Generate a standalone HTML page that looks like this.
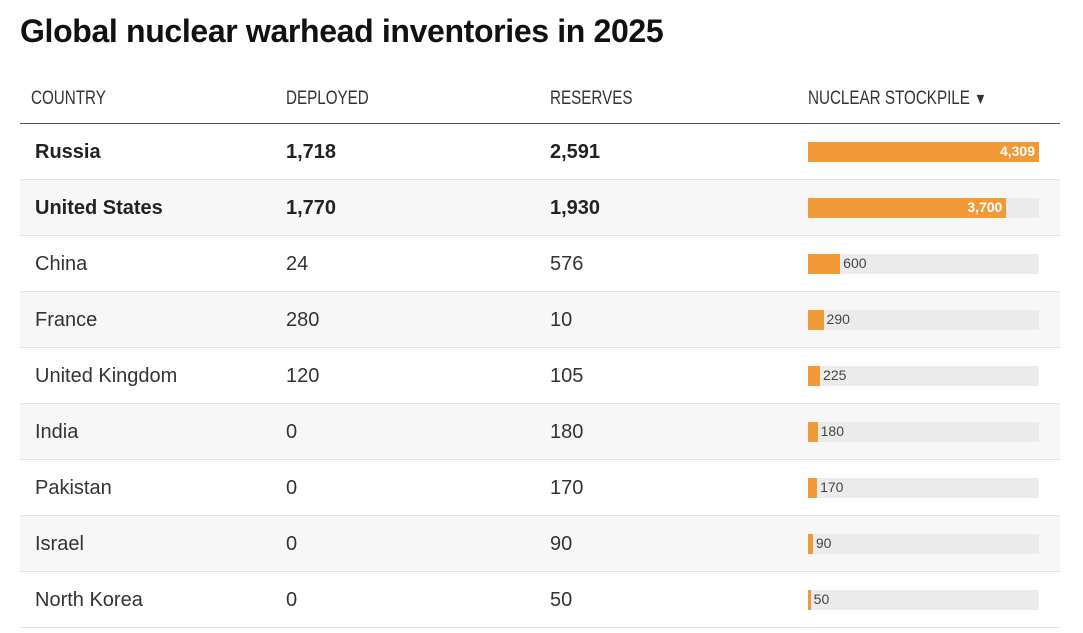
<!DOCTYPE html>
<html><head><meta charset="utf-8"><style>
body{margin:0;background:#fff;width:1083px;height:633px;overflow:hidden;font-family:"Liberation Sans",sans-serif;color:#222}
h1{position:absolute;left:20px;top:13px;margin:0;font-size:32px;font-weight:bold;color:#111;letter-spacing:-0.35px}
.hdr{position:absolute;top:88px;font-size:19px;color:#333;transform:scaleX(0.8);transform-origin:0 0;white-space:nowrap}
#line{position:absolute;left:20px;top:123px;width:1040px;height:1px;background:#555}
.row{position:absolute;left:20px;width:1040px;height:55px;border-bottom:1px solid #e4e4e4}
.row span{position:absolute;top:17px;font-size:20px;color:#333}
.row.b span{font-weight:bold;color:#222;font-size:20px;top:17px}
.track{position:absolute;left:788px;top:18px;width:231px;height:20px;background:#ebebeb}
.bar{position:absolute;left:0;top:0;height:20px;background:#f29937}
.lbl{position:absolute;top:1px;font-size:14px;color:#444}
.lbl.in{color:#fff;font-weight:bold}
</style></head><body>
<h1>Global nuclear warhead inventories in 2025</h1>
<div class="hdr" style="left:31px">COUNTRY</div>
<div class="hdr" style="left:286px">DEPLOYED</div>
<div class="hdr" style="left:550px">RESERVES</div>
<div class="hdr" style="left:808px">NUCLEAR STOCKPILE <span style="font-size:16px">▼</span></div>
<div id="line"></div>
<div id="rows"></div>
<script>
const countries=["Russia","United States","China","France","United Kingdom","India","Pakistan","Israel","North Korea"];
const deployed=[1718,1770,24,280,120,0,0,0,0];
const reserves=[2591,1930,576,10,105,180,170,90,50];
const stockpile=[4309,3700,600,290,225,180,170,90,50];
const fmt=v=>v.toLocaleString('en-US');
const max=Math.max(...stockpile), W=231;
const root=document.getElementById('rows');
countries.forEach((c,i)=>{
  const r=document.createElement('div');
  
  
  r.className='row'+(i<2?' b':'');
  r.style.top=(124+i*56)+'px';
  r.style.background=i%2?'#f7f7f7':'#fff';
  r.innerHTML=`<span style="left:15px">${c}</span><span style="left:266px">${fmt(deployed[i])}</span><span style="left:530px">${fmt(reserves[i])}</span>`;
  const t=document.createElement('div');t.className='track';
  
  
  const b=document.createElement('div');b.className='bar';
  
  
  const w=stockpile[i]/max*W;b.style.width=w+'px';
  t.appendChild(b);
  const l=document.createElement('div');
  
  
  l.textContent=fmt(stockpile[i]);
  if(w>60){l.className='lbl in';l.style.right=(W-w+4)+'px';}
  else{l.className='lbl';l.style.left=(w+3)+'px';}
  t.appendChild(l);r.appendChild(t);root.appendChild(r);
});
</script>
</body></html>
